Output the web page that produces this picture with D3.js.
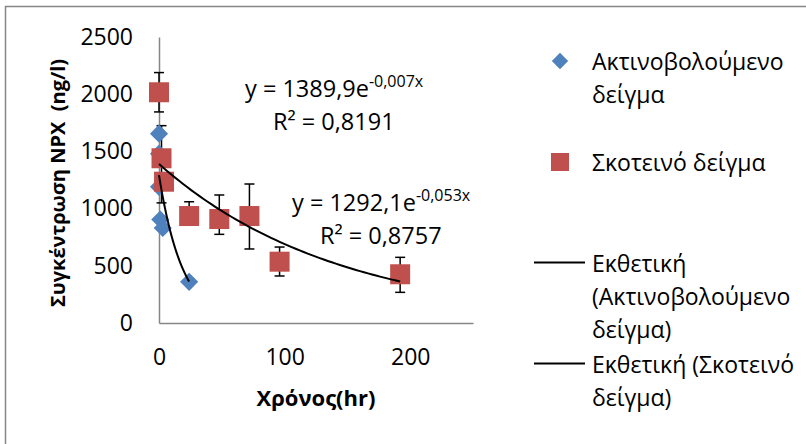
<!DOCTYPE html>
<html>
<head>
<meta charset="utf-8">
<script src="https://cdn.jsdelivr.net/npm/d3@7"></script>
<style>
  body { margin: 0; background: #fff; }
  svg { display: block; }
</style>
</head>
<body>
<div id="chart"></div>
<script>
// Irradiated sample (blue diamonds)
const irrHours = [0, 0, 0, 1, 3, 24];
const irrConc = [1655, 1480, 1190, 905, 830, 360];

// Dark sample (red squares) with error bars
const darkHours = [0, 2, 4, 24, 48, 72, 96, 192];
const darkConc = [2017, 1440, 1235, 935, 909, 935, 536, 426];
const darkErrPlus = [172, 285, 60, 125, 210, 280, 128, 148];
const darkErrMinus = [172, 390, 60, 60, 134, 288, 125, 158];

// Exponential trend lines: [a, b] for y = a * e^(b x)
const irrTrend = [1292.1, -0.053];
const darkTrend = [1389.9, -0.007];

const xTicks = [0, 100, 200];
const yTicks = [0, 500, 1000, 1500, 2000, 2500];

const FONT = "'Open Sans', sans-serif";
const width = 806, height = 444;

const svg = d3.select('#chart').append('svg')
  .attr('width', width)
  .attr('height', height)
  .style('font-family', FONT);

// chart frame
svg.append('rect')
  .attr('x', 5.5).attr('y', 6.5)
  .attr('width', 840).attr('height', 480)
  .attr('fill', 'none')
  .attr('stroke', '#868686')
  .attr('stroke-width', 1.5);

const x = d3.scaleLinear().domain([0, 250]).range([159, 473]);
const y = d3.scaleLinear().domain([0, 2500]).range([323, 37]);

// axes (no tick marks, grey line)
const xAxis = svg.append('g')
  .attr('transform', `translate(0,${y(0)})`)
  .call(d3.axisBottom(x).tickValues(xTicks).tickFormat(d3.format('d')).tickSize(0).tickPadding(26));
const yAxis = svg.append('g')
  .attr('transform', `translate(${x(0)},0)`)
  .call(d3.axisLeft(y).tickValues(yTicks).tickFormat(d3.format('d')).tickSize(0).tickPadding(26));

[xAxis, yAxis].forEach(g => {
  g.select('.domain').attr('stroke', '#868686').attr('stroke-width', 1.5);
  g.selectAll('text')
    .style('font-family', FONT)
    .style('font-size', '23px')
    .attr('fill', '#000');
});

// axis titles
svg.append('text')
  .attr('transform', 'translate(65,183) rotate(-90)')
  .attr('text-anchor', 'middle')
  .style('font-size', '20px')
  .style('font-weight', 'bold')
  .style('white-space', 'pre')
  .text('Συγκέντρωση NPX\u00A0 (ng/l)');

svg.append('text')
  .attr('x', 316).attr('y', 406)
  .attr('text-anchor', 'middle')
  .style('font-size', '22px')
  .style('font-weight', 'bold')
  .text('Χρόνος(hr)');

const plot = svg.append('g');

// error bars (drawn under markers)
const darkData = darkHours.map((h, i) => ({
  h, c: darkConc[i], up: darkErrPlus[i], down: darkErrMinus[i]
}));

const err = plot.selectAll('.err')
  .data(darkData)
  .enter().append('g')
  .attr('class', 'err')
  .attr('stroke', '#000')
  .attr('stroke-width', 1.5);

err.append('line')
  .attr('x1', d => x(d.h)).attr('x2', d => x(d.h))
  .attr('y1', d => y(d.c + d.up)).attr('y2', d => y(d.c - d.down));
err.append('line')
  .attr('x1', d => x(d.h) - 5).attr('x2', d => x(d.h) + 5)
  .attr('y1', d => y(d.c + d.up)).attr('y2', d => y(d.c + d.up));
err.append('line')
  .attr('x1', d => x(d.h) - 5).attr('x2', d => x(d.h) + 5)
  .attr('y1', d => y(d.c - d.down)).attr('y2', d => y(d.c - d.down));

// blue diamonds
const irrData = irrHours.map((h, i) => ({ h, c: irrConc[i] }));
const diamond = d3.symbol().type(d3.symbolDiamond2).size(210);

plot.selectAll('.irr')
  .data(irrData)
  .enter().append('path')
  .attr('class', 'irr')
  .attr('d', diamond)
  .attr('transform', d => `translate(${x(d.h)},${y(d.c)})`)
  .attr('fill', '#4F81BD');

// red squares
plot.selectAll('.dark')
  .data(darkData)
  .enter().append('rect')
  .attr('class', 'dark')
  .attr('x', d => x(d.h) - 10)
  .attr('y', d => y(d.c) - 10)
  .attr('width', 20).attr('height', 20)
  .attr('fill', '#C0504D');

// trend lines
const line = d3.line().x(d => x(d[0])).y(d => y(d[1]));

function trendPoints(coef, maxX) {
  return d3.range(0, maxX + 0.01, maxX / 60).map(t => [t, coef[0] * Math.exp(coef[1] * t)]);
}

plot.append('path')
  .attr('d', line(trendPoints(irrTrend, d3.max(irrHours))))
  .attr('fill', 'none').attr('stroke', '#000').attr('stroke-width', 2);
plot.append('path')
  .attr('d', line(trendPoints(darkTrend, d3.max(darkHours))))
  .attr('fill', 'none').attr('stroke', '#000').attr('stroke-width', 2);

// equation labels
function equation(ex, ey, a, b, r2) {
  const t = svg.append('text')
    .attr('x', ex).attr('y', ey)
    .style('font-size', '23.5px');
  t.append('tspan').text(`y = ${a}e`);
  t.append('tspan').attr('dy', -10).style('font-size', '16px').text(`${b}x`);
  svg.append('text')
    .attr('x', ex + 28).attr('y', ey + 33)
    .style('font-size', '23.5px')
    .text(`R² = ${r2}`);
}
equation(245, 97, '1389,9', '-0,007', '0,8191');
equation(292, 211, '1292,1', '-0,053', '0,8757');

// legend
const legend = svg.append('g').style('font-size', '23px');

legend.append('path')
  .attr('d', d3.symbol().type(d3.symbolDiamond2).size(170)())
  .attr('transform', 'translate(560,61)')
  .attr('fill', '#4F81BD');
legend.append('rect')
  .attr('x', 551).attr('y', 153).attr('width', 18).attr('height', 18)
  .attr('fill', '#C0504D');
legend.append('line')
  .attr('x1', 534).attr('x2', 585).attr('y1', 262.5).attr('y2', 262.5)
  .attr('stroke', '#000').attr('stroke-width', 2);
legend.append('line')
  .attr('x1', 534).attr('x2', 585).attr('y1', 363.5).attr('y2', 363.5)
  .attr('stroke', '#000').attr('stroke-width', 2);

const legendText = [
  { y: 61, lines: ['Ακτινοβολούμενο', 'δείγμα'] },
  { y: 162, lines: ['Σκοτεινό δείγμα'] },
  { y: 263, lines: ['Εκθετική', '(Ακτινοβολούμενο', 'δείγμα)'] },
  { y: 364, lines: ['Εκθετική (Σκοτεινό', 'δείγμα)'] }
];

legendText.forEach(item => {
  const t = legend.append('text')
    .attr('x', 592).attr('y', item.y)
    .attr('dominant-baseline', 'central');
  item.lines.forEach((l, i) => {
    t.append('tspan').attr('x', 592).attr('dy', i === 0 ? 0 : 33).text(l);
  });
});
</script>
</body>
</html>
